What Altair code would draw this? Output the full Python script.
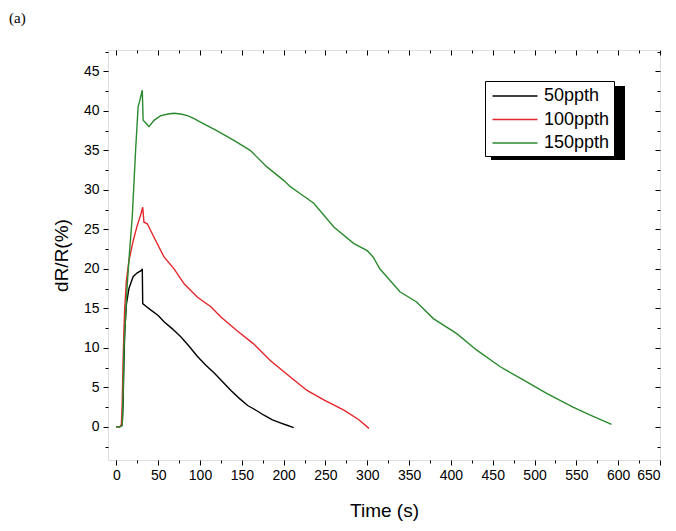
import altair as alt
import pandas as pd

series_names = ["50ppth", "100ppth", "150ppth"]
series_colors = ["#000000", "#e3262b", "#2a8a2e"]

black_t = [0, 4, 7, 8, 9, 10, 12, 15, 20, 25, 30, 31, 31.5, 35, 41, 50, 57, 67, 77, 87,
           97, 107, 117, 127, 137, 147, 157, 167, 176, 186, 196, 204, 212]
black_y = [0, 0, 0.2, 3, 8, 12, 15.5, 17.5, 19, 19.5, 19.8, 20.0, 15.6, 15.3, 14.8, 14.1, 13.3, 12.4, 11.4, 10.2,
           8.9, 7.8, 6.8, 5.7, 4.6, 3.6, 2.7, 2.1, 1.5, 0.9, 0.5, 0.2, -0.1]

red_t = [0, 4, 6, 7, 8, 9, 10, 12, 15, 20, 25, 29, 31.5, 33, 37, 45, 57, 69, 81, 97,
         113, 125, 144, 164, 184, 208, 228, 248, 272, 290, 302]
red_y = [0, 0, 0.3, 3, 8, 12, 15, 18.5, 21, 23.5, 25.5, 26.8, 27.8, 25.9, 25.7, 24.0, 21.5, 20.0, 18.1, 16.4,
         15.2, 13.9, 12.2, 10.5, 8.4, 6.3, 4.6, 3.4, 2.1, 0.9, -0.2]

green_t = [0, 4, 7, 8, 9, 11, 13, 16, 19, 23, 26, 28, 31, 32, 35, 39, 45, 53, 62, 69,
           77, 85, 93, 100, 120, 140, 160, 180, 200, 208, 220, 236, 260, 284, 300, 307, 315, 339, 359, 379,
           407, 431, 459, 487, 515, 546, 566, 592]
green_y = [0, 0, 0.2, 4, 9.7, 14, 18, 22.5, 26.6, 35, 40.5, 41.3, 42.6, 38.8, 38.5, 38.0, 38.8, 39.4, 39.6, 39.7,
           39.6, 39.4, 39.0, 38.6, 37.5, 36.3, 35.0, 32.9, 31.2, 30.4, 29.5, 28.3, 25.3, 23.2, 22.3, 21.5, 20.0, 17.1, 15.8, 13.7,
           11.8, 9.7, 7.6, 5.9, 4.2, 2.5, 1.5, 0.3]

x_major = list(range(0, 651, 50))
x_minor = list(range(25, 650, 50))
y_major = list(range(0, 46, 5))
y_minor = [-2.5 + 5 * i for i in range(11)]

frames = []
for name, ts, ys in [(series_names[0], black_t, black_y),
                     (series_names[1], red_t, red_y),
                     (series_names[2], green_t, green_y)]:
    frames.append(pd.DataFrame({"t": ts, "v": ys, "series": name}))
df = pd.concat(frames, ignore_index=True)

W, H = 552, 410
FONT = "Liberation Sans"

xs = alt.Scale(domain=[-10, 650], nice=False, zero=False)
ys = alt.Scale(domain=[-4.2, 47.7], nice=False, zero=False)

base = alt.Chart(df)

main = base.mark_line(strokeWidth=1.4).encode(
    x=alt.X("t:Q", scale=xs, axis=alt.Axis(
        orient="bottom",
        values=x_major, title="Time (s)", grid=False, domain=False,
        tickSize=5, tickColor="black", tickWidth=1,
        labelFont=FONT, labelFontSize=14, labelColor="black", labelPadding=3,
        titleFont=FONT, titleFontSize=19, titleFontWeight="normal", titleColor="black",
        titlePadding=19)),
    y=alt.Y("v:Q", scale=ys, axis=alt.Axis(
        orient="left",
        values=y_major, title="dR/R(%)", grid=False, domain=False,
        tickSize=5, tickColor="black", tickWidth=1,
        labelFont=FONT, labelFontSize=14, labelColor="black", labelPadding=4,
        titleFont=FONT, titleFontSize=19, titleFontWeight="normal", titleColor="black",
        titlePadding=12)),
    color=alt.Color("series:N", scale=alt.Scale(domain=series_names, range=series_colors),
                    sort=series_names,
                    legend=alt.Legend(
                        title=None, orient="none", legendX=377, legendY=31,
                        fillColor="white", strokeColor="black", padding=4,
                        symbolType="M-2.25,0H2.25", symbolSize=400, symbolStrokeWidth=1.5,
                        symbolOffset=15,
                        labelFont=FONT, labelFontSize=18, labelColor="black",
                        labelOffset=18, rowPadding=3.5)),
    detail="series:N",
)

def ghost(xaxis, yaxis):
    return base.mark_line(opacity=0).encode(
        x=alt.X("t:Q", scale=xs, axis=xaxis),
        y=alt.Y("v:Q", scale=ys, axis=yaxis),
        detail="series:N",
    )

minor_bl = ghost(
    alt.Axis(values=x_minor, labels=False, title=None, grid=False, domain=False,
             tickSize=3, tickColor="black", orient="bottom"),
    alt.Axis(values=y_minor, labels=False, title=None, grid=False, domain=False,
             tickSize=3, tickColor="black", orient="left"),
)
major_tr = ghost(
    alt.Axis(values=x_major, labels=False, title=None, grid=False, domain=False,
             tickSize=5, tickColor="black", orient="bottom", offset=-H),
    alt.Axis(values=y_major, labels=False, title=None, grid=False, domain=False,
             tickSize=5, tickColor="black", orient="left", offset=-W),
)
minor_tr = ghost(
    alt.Axis(values=x_minor, labels=False, title=None, grid=False, domain=False,
             tickSize=3, tickColor="black", orient="bottom", offset=-H),
    alt.Axis(values=y_minor, labels=False, title=None, grid=False, domain=False,
             tickSize=3, tickColor="black", orient="left", offset=-W),
)

one = alt.Chart(alt.Data(values=[{"a": 1}]))
shadow = one.mark_rect(color="black").encode(
    x=alt.value(383), x2=alt.value(517), y=alt.value(36), y2=alt.value(110)
)
label_a = one.mark_text(font="Liberation Serif", fontSize=15, align="left",
                        baseline="middle", color="black").encode(
    x=alt.value(-99), y=alt.value(-32), text=alt.value("(a)")
)

chart = alt.layer(minor_bl, major_tr, minor_tr, shadow, main, label_a).resolve_axis(
    x="independent", y="independent"
).properties(
    width=W, height=H,
    autosize=alt.AutoSizeParams(type="none"),
    padding={"left": 100, "top": 42, "right": 4, "bottom": 66},
).configure_view(stroke="black", strokeWidth=1.5).configure(background="white")

chart.save("out.html", embed_options={"renderer": "svg", "actions": False})
